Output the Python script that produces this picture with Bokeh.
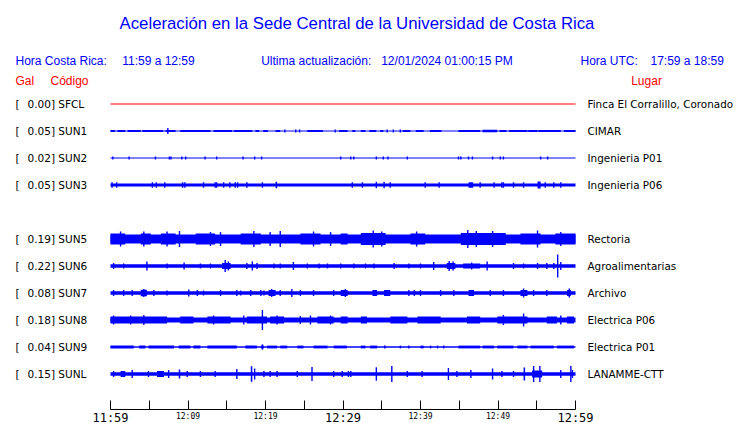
from bokeh.plotting import figure
from bokeh.models import Range1d, Label, LinearAxis, FixedTicker, ColumnDataSource
from bokeh.embed import file_html
from bokeh.resources import INLINE

# ---------------- data ----------------
TITLE = "Aceleración en la Sede Central de la Universidad de Costa Rica"
LOCAL_LABEL, LOCAL_SPAN = "Hora Costa Rica:", "11:59 a 12:59"
UPD_LABEL, UPD_VALUE = "Ultima actualización:", "12/01/2024 01:00:15 PM"
UTC_LABEL, UTC_SPAN = "Hora UTC:", "17:59 a 18:59"

CODES = ["SFCL", "SUN1", "SUN2", "SUN3", "SUN5", "SUN6", "SUN7", "SUN8", "SUN9", "SUNL"]
ROWS = [0, 1, 2, 3, 5, 6, 7, 8, 9, 10]          # slot 4 (SUN4) is empty
GAL = [0.00, 0.05, 0.02, 0.05, 0.19, 0.22, 0.08, 0.18, 0.04, 0.15]
PLACES = ["Finca El Corralillo, Coronado", "CIMAR", "Ingenieria P01", "Ingenieria P06",
          "Rectoria", "Agroalimentarias", "Archivo", "Electrica P06", "Electrica P01", "LANAMME-CTT"]
TRACE_COLORS = ["red", "blue", "blue", "blue", "blue", "blue", "blue", "blue", "blue", "blue"]

# background half-amplitude of each trace
BASE_AMP = [0.5, 0.5, 0.5, 1.5, 4.5, 1.8, 1.8, 2.5, 0.8, 1.8]

# bursts / spikes: (start minute, end minute, half-amplitude), minutes after 11:59
SFCL_EV = []
SUN1_EV = [(0.0, 0.6, 1.0), (0.9, 1.9, 1.0), (2.2, 3.9, 1.0), (4.1, 6.8, 1.0), (7.1, 8.4, 1.0),
           (7.4, 7.4, 3.0), (9.0, 12.9, 1.0), (13.3, 15.7, 1.0), (15.9, 18.3, 1.0), (18.7, 19.2, 1.0),
           (19.7, 20.3, 1.0), (21.3, 21.9, 1.0), (22.5, 22.5, 1.5), (23.9, 23.9, 1.5), (24.4, 24.4, 1.5),
           (25.4, 27.4, 1.0), (29.0, 29.0, 1.5), (29.5, 30.6, 1.0), (31.2, 31.6, 1.0), (32.3, 32.9, 1.0),
           (33.4, 34.3, 1.0), (34.8, 35.2, 1.0), (35.7, 35.7, 1.5), (36.5, 36.5, 1.5), (37.4, 37.4, 1.5),
           (37.7, 38.7, 1.0), (39.4, 40.4, 1.0), (41.2, 42.7, 1.0), (44.9, 47.7, 1.0), (48.0, 49.9, 1.2),
           (50.2, 51.1, 1.0), (51.4, 53.8, 1.0), (53.9, 55.1, 1.0), (55.2, 58.1, 1.0), (58.5, 60.0, 1.0)]
SUN2_EV = [(t, t, 1.5) for t in [0.3, 2.4, 5.8, 7.6, 7.8, 9.2, 9.7, 12.2, 13.7, 17.1, 18.6, 19.5,
                                 29.7, 31.0, 31.4, 34.3, 35.2, 35.8, 38.3, 44.9, 45.2, 46.2, 46.7,
                                 49.3, 50.3, 50.7, 55.5, 56.4]]
SUN3_EV = [(t, t, 2.8) for t in [0.2, 0.8, 5.4, 5.9, 7.0, 9.3, 9.6, 12.0, 13.5, 13.7, 14.6, 15.4,
                                 16.1, 16.4, 17.6, 19.6, 31.2, 32.5, 36.1, 40.6, 42.4, 47.7, 49.5,
                                 50.5, 50.7, 52.0, 53.3, 56.1, 57.2, 58.1]] + \
          [(21.3, 21.5, 3.2), (34.3, 34.3, 3.2), (35.3, 35.3, 3.2), (46.2, 46.8, 2.8), (55.1, 55.5, 3.5)]
SUN5_EV = [(0.0, 1.9, 5.5), (3.9, 5.2, 5.5), (6.5, 8.4, 5.5), (11.0, 13.5, 5.5), (16.8, 19.4, 5.5),
           (24.5, 27.1, 5.5), (29.7, 30.6, 5.5), (32.3, 35.5, 6.0), (38.7, 40.6, 5.5), (45.2, 51.0, 6.0),
           (52.9, 55.5, 5.5), (57.4, 60.0, 5.5),
           (1.3, 1.3, 7.5), (4.3, 4.3, 7.5), (7.3, 7.3, 7.5), (8.9, 8.9, 8.0), (12.9, 12.9, 7.0),
           (14.2, 14.2, 7.0), (18.5, 18.5, 8.0), (20.6, 20.6, 7.0), (21.9, 21.9, 8.0), (26.2, 26.2, 7.5),
           (28.4, 28.4, 7.0), (33.9, 33.9, 8.5), (35.0, 35.0, 7.5), (39.5, 39.5, 7.5), (46.1, 46.1, 9.0),
           (47.2, 47.2, 8.0), (49.3, 49.3, 8.0), (55.1, 55.1, 8.5), (58.1, 58.1, 7.0)]
SUN6_EV = [(0.4, 0.4, 3.0), (1.7, 1.7, 2.5), (4.7, 4.7, 4.5), (7.3, 7.3, 2.5), (9.5, 9.5, 3.5),
           (11.6, 11.6, 2.5), (12.9, 12.9, 2.5), (14.4, 15.5, 3.0), (14.8, 14.8, 6.0), (15.2, 15.2, 4.5),
           (17.6, 17.6, 3.0), (18.3, 18.3, 4.5), (18.9, 18.9, 3.0), (21.1, 21.1, 2.5), (21.9, 21.9, 2.5),
           (23.6, 23.6, 4.0), (25.4, 25.4, 2.5), (26.9, 26.9, 2.5), (28.0, 28.0, 2.5), (29.7, 29.7, 2.5),
           (31.4, 31.4, 2.5), (32.9, 32.9, 2.5), (34.0, 34.0, 2.5), (36.6, 36.6, 3.0), (38.5, 38.5, 2.5),
           (40.0, 40.0, 2.5), (41.7, 41.7, 4.0), (43.4, 44.5, 3.0), (43.7, 43.7, 5.0), (44.2, 44.2, 4.5),
           (45.5, 47.7, 2.5), (46.6, 46.6, 3.5), (48.6, 48.6, 4.5), (52.0, 52.0, 3.0), (53.3, 53.3, 2.5),
           (55.1, 55.1, 3.0), (56.3, 56.3, 3.0), (57.2, 57.2, 3.0), (57.7, 57.7, 11.5), (58.1, 58.1, 4.0)]
SUN7_EV = [(0.4, 0.4, 3.0), (1.7, 1.7, 3.0), (2.8, 2.8, 3.0), (3.9, 4.7, 3.2), (4.3, 4.3, 4.0),
           (5.6, 5.6, 3.0), (7.3, 7.3, 2.5), (10.1, 10.1, 3.5), (11.2, 11.2, 3.0), (12.0, 12.0, 2.5),
           (14.2, 14.2, 3.0), (16.3, 16.3, 3.0), (16.8, 16.8, 2.5), (18.1, 18.1, 3.0), (19.4, 19.4, 3.0),
           (19.8, 19.8, 2.5), (20.4, 21.3, 3.0), (20.8, 20.8, 4.0), (21.9, 21.9, 3.0), (23.4, 23.4, 4.0),
           (24.5, 24.5, 3.0), (26.2, 26.2, 3.0), (28.8, 28.8, 3.0), (29.7, 30.6, 3.0), (30.3, 30.3, 4.0),
           (33.8, 34.4, 3.0), (35.3, 36.1, 3.0), (38.5, 38.5, 3.0), (39.2, 39.2, 3.0), (40.0, 40.0, 3.0),
           (42.6, 42.6, 3.0), (44.3, 44.3, 3.0), (46.2, 46.9, 3.0), (49.0, 49.0, 3.0), (50.7, 50.7, 3.0),
           (52.9, 53.8, 3.0), (53.3, 53.3, 4.5), (54.6, 54.6, 3.0), (56.3, 56.3, 3.0), (58.9, 59.4, 3.0),
           (59.2, 59.2, 4.5)]
SUN8_EV = [(0.0, 7.3, 3.5), (9.0, 10.7, 3.5), (12.5, 15.5, 3.5), (17.6, 20.2, 3.5), (20.6, 22.4, 3.5),
           (24.5, 24.5, 4.0), (26.7, 28.8, 3.5), (29.7, 30.6, 3.5), (32.3, 33.1, 3.5), (36.1, 38.3, 3.5),
           (39.6, 42.6, 3.5), (46.0, 47.7, 3.5), (49.9, 53.8, 3.5), (56.3, 57.6, 3.5), (58.9, 59.8, 3.5),
           (0.4, 0.4, 4.5), (2.6, 2.6, 4.5), (4.3, 4.3, 5.0), (13.3, 13.3, 4.5), (17.2, 17.2, 4.5),
           (19.6, 19.6, 10.0), (21.5, 21.5, 4.5), (25.8, 25.8, 4.5), (28.4, 28.4, 4.5), (50.7, 50.7, 5.0),
           (53.3, 53.3, 6.5), (58.1, 58.1, 4.5)]
SUN9_EV = [(0.0, 3.0, 1.4), (3.7, 4.5, 1.4), (4.9, 8.2, 1.4), (8.8, 10.3, 1.4), (10.7, 11.6, 1.4),
           (12.5, 16.3, 1.4), (17.4, 18.9, 1.4), (19.4, 19.8, 1.4), (20.2, 21.5, 1.4), (21.9, 22.8, 1.4),
           (24.1, 24.9, 1.4), (26.2, 28.0, 1.4), (28.8, 30.5, 1.4), (32.3, 32.9, 1.4), (33.5, 34.4, 1.4),
           (35.3, 35.5, 1.4), (37.4, 37.4, 1.4), (38.5, 38.5, 1.4), (40.0, 40.4, 1.4), (41.3, 41.3, 1.4),
           (42.2, 42.2, 1.4), (43.0, 43.0, 1.4), (44.9, 47.7, 1.4), (48.0, 49.5, 1.4), (49.9, 52.0, 1.4),
           (52.5, 53.8, 1.4), (54.2, 57.2, 1.4), (57.6, 59.8, 1.4), (19.6, 19.6, 2.7)]
SUNL_EV = [(0.4, 0.4, 3.0), (1.3, 1.9, 3.0), (2.8, 2.8, 4.0), (4.9, 4.9, 3.0), (6.0, 6.9, 3.0),
           (7.5, 7.5, 4.0), (8.8, 9.0, 4.5), (9.9, 9.9, 3.0), (11.6, 11.6, 3.0), (13.5, 13.5, 3.0),
           (16.3, 16.3, 5.0), (18.1, 18.3, 7.7), (18.6, 18.6, 5.5), (19.8, 19.8, 3.0), (20.6, 20.6, 3.0),
           (21.5, 21.5, 3.0), (24.1, 24.1, 3.0), (26.0, 26.0, 7.0), (28.8, 28.8, 3.0), (29.9, 29.9, 3.0),
           (30.7, 30.7, 3.0), (31.0, 31.0, 3.0), (34.3, 34.3, 6.7), (36.3, 36.3, 8.0), (38.3, 38.3, 3.0),
           (40.2, 40.2, 3.0), (43.6, 43.6, 6.0), (44.7, 44.7, 3.0), (46.5, 46.5, 4.0), (49.3, 49.3, 5.5),
           (50.5, 50.5, 3.0), (52.0, 52.0, 3.0), (53.3, 53.5, 6.5), (54.4, 55.7, 3.5), (54.6, 54.6, 8.0),
           (55.4, 55.4, 8.0), (58.1, 58.1, 4.0), (59.4, 59.4, 8.0), (59.6, 59.6, 4.0)]
EVENTS = [SFCL_EV, SUN1_EV, SUN2_EV, SUN3_EV, SUN5_EV, SUN6_EV, SUN7_EV, SUN8_EV, SUN9_EV, SUNL_EV]

TICK_MIN = [0, 5, 10, 15, 20, 25, 30, 35, 40, 45, 50, 55, 60]
SMALL_TICK_LABELS = {10: "12:09", 20: "12:19", 40: "12:39", 50: "12:49"}
BIG_TICK_LABELS = {0: "11:59", 30: "12:29", 60: "12:59"}

# ---------------- layout ----------------
W, H = 740, 423
PX_PER_MIN = 7.75
ROW_GAP = 27
def X(px):   # picture x -> minutes
    return (px - 110) / PX_PER_MIN
def Y(py):   # picture y -> vertical units (1 unit = 1 px, row 0 at 0)
    return py - 103.5

p = figure(width=W, height=H, output_backend="svg", toolbar_location=None,
           x_range=Range1d(X(0), X(W)), y_range=Range1d(Y(H), Y(0)),
           x_axis_type=None, y_axis_type=None, min_border=0)
p.outline_line_color = None
p.xgrid.visible = False
p.ygrid.visible = False
p.background_fill_color = "white"
p.border_fill_color = "white"

# traces
L, R, T, B, C = [], [], [], [], []
SPIKE_W = 0.09
for row, base, ev, col in zip(ROWS, BASE_AMP, EVENTS, TRACE_COLORS):
    yc = row * ROW_GAP
    L.append(TICK_MIN[0]); R.append(TICK_MIN[-1]); T.append(yc - base); B.append(yc + base); C.append(col)
    for t0, t1, a in ev:
        if t1 - t0 < 0.05:
            t0, t1 = t0 - SPIKE_W, t1 + SPIKE_W
        L.append(max(t0, 0)); R.append(min(t1, 60)); T.append(yc - a); B.append(yc + a); C.append(col)
src = ColumnDataSource(dict(left=L, right=R, top=T, bottom=B, color=C))
p.quad(left="left", right="right", top="top", bottom="bottom", fill_color="color",
       line_color=None, source=src)

# axis (ticks + small labels, big labels on a second axis at the same place)
axis_y = Y(409)
ax1 = LinearAxis(fixed_location=axis_y, bounds=(0, 60),
                 ticker=FixedTicker(ticks=TICK_MIN, minor_ticks=[]),
                 major_label_overrides={t: SMALL_TICK_LABELS.get(t, "") for t in TICK_MIN},
                 major_tick_in=9, major_tick_out=0, minor_tick_line_color=None,
                 axis_line_color="black", major_tick_line_color="black",
                 major_label_text_font="DejaVu Sans Mono", major_label_text_font_size="8px",
                 major_label_text_color="black", major_label_standoff=2)
ax2 = LinearAxis(fixed_location=axis_y, bounds=(0, 60),
                 ticker=FixedTicker(ticks=list(BIG_TICK_LABELS.keys()), minor_ticks=[]),
                 major_label_overrides=BIG_TICK_LABELS,
                 major_tick_in=0, major_tick_out=0, minor_tick_line_color=None,
                 axis_line_color=None, major_tick_line_color=None,
                 major_label_text_font="DejaVu Sans Mono", major_label_text_font_size="12px",
                 major_label_text_color="black", major_label_standoff=1)
p.add_layout(ax1, "below")
p.add_layout(ax2, "below")

def lab(px, py, text, size, color="black", font="Liberation Sans", align="left"):
    # py is the vertical centre of the text
    p.add_layout(Label(x=X(px), y=Y(py), text=text, text_font=font, text_font_size=size,
                       text_color=color, text_align=align, text_baseline="middle"))

BLUE = "#0000ff"
RED = "#ff0000"
lab(356.5, 22.5, TITLE, "16.75px", BLUE, align="center")
lab(15, 60.5, LOCAL_LABEL, "12px", BLUE)
lab(121.7, 60.5, LOCAL_SPAN, "12px", BLUE)
lab(260.7, 60.5, UPD_LABEL, "12px", BLUE)
lab(380.7, 60.5, UPD_VALUE, "12px", BLUE)
lab(580, 60.5, UTC_LABEL, "12px", BLUE)
lab(650, 60.5, UTC_SPAN, "12px", BLUE)
lab(15, 80.5, "Gal", "12px", RED)
lab(50, 80.5, "Código", "12px", RED)
lab(630.7, 80.5, "Lugar", "12px", RED)

for row, g, code, place in zip(ROWS, GAL, CODES, PLACES):
    yc = 103.5 + row * ROW_GAP
    lab(15, yc, "[", "10.5px", font="DejaVu Sans")
    lab(27, yc, f"{g:.2f}] {code}", "10.5px", font="DejaVu Sans")
    lab(587, yc, place, "10.4px", font="DejaVu Sans")

open("out.html", "w").write(file_html(p, INLINE))
